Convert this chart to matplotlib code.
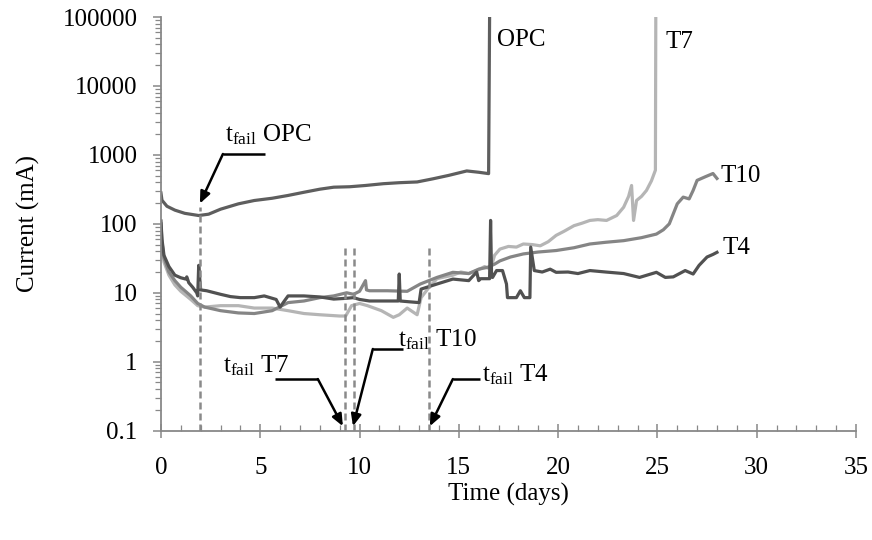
import numpy as np
import matplotlib
matplotlib.use("Agg")
import matplotlib.pyplot as plt
from matplotlib.ticker import FixedLocator, MultipleLocator, NullFormatter, LogLocator

plt.rcParams['font.family'] = ['Liberation Serif', 'DejaVu Serif']
plt.rcParams['mathtext.fontset'] = 'custom'
plt.rcParams['mathtext.rm'] = 'Liberation Serif'

# current (mA) vs time (days)
opc_t = [0, 0.05, 0.3, 0.7, 1.2, 1.9, 2.4, 3.0, 3.9, 4.7, 5.6, 6.4, 7.2, 8.0, 8.7,
         9.5, 10.3, 11.2, 12.0, 12.9, 13.7, 14.5, 15.4, 16.0, 16.5, 16.55]
opc_v = [280, 220, 180, 158, 142, 132, 138, 163, 195, 218, 235, 258, 287, 318, 340,
         345, 360, 382, 395, 405, 450, 505, 585, 560, 535, 100000]

t4_t = [0, 0.05, 0.15, 0.4, 0.7, 1.0, 1.25, 1.3, 1.4, 1.6, 1.8, 1.85, 1.9, 2.0, 2.3,
        3.0, 3.5, 4.0, 4.7, 5.2, 5.8, 6.0, 6.2, 6.4, 7.2, 8.0, 8.7, 9.3, 9.7, 10.0,
        10.5, 11.2, 11.95, 12.0, 12.05, 12.5, 13.0, 13.1, 13.9, 14.7, 15.5, 15.9,
        16.0, 16.1, 16.55, 16.6, 16.65, 16.7, 16.9, 17.2, 17.4, 17.45, 17.6, 17.9,
        18.1, 18.3, 18.58, 18.62, 18.8, 19.2, 19.6, 19.9, 20.5, 21.0, 21.6, 22.4,
        23.3, 24.1, 24.95, 25.4, 25.8, 26.4, 26.8, 27.1, 27.5, 27.8, 28.0]
t4_v = [110, 60, 35, 24, 18, 16.5, 15.8, 17, 14, 12, 10, 9, 25, 11, 10.7,
        9.5, 8.8, 8.5, 8.5, 9, 8, 6.2, 7.5, 9, 9, 8.7, 8.1, 8.3, 8.5, 8.0,
        7.6, 7.6, 7.6, 18.7, 7.6, 7.4, 7.2, 11.3, 13.4, 15.8, 15, 20,
        15, 16, 16, 112, 17, 16.7, 21, 21, 13.4, 8.5, 8.5, 8.5,
        10.7, 8.5, 8.5, 46, 21, 20, 22, 19.8, 20, 19, 21, 20,
        19, 16.7, 19.8, 16.7, 17, 21, 18.7, 25, 33, 36, 38.6]

t10_t = [0, 0.05, 0.15, 0.4, 0.7, 1.0, 1.5, 1.85, 2.2, 3.0, 3.9, 4.7, 5.6, 6.4, 7.2,
         8.0, 8.7, 9.35, 9.7, 10.0, 10.3, 10.35, 10.5, 11.4, 12.4, 13.06, 13.9, 14.7,
         15.5, 16.0, 16.45, 16.8, 17.07, 17.6, 18.25, 19.0, 19.9, 20.8, 21.6, 22.4,
         23.3, 24.2, 24.95, 25.3, 25.6, 26.0, 26.3, 26.6, 26.8, 27.0, 27.4, 27.8, 28.0]
t10_v = [100, 55, 32, 20, 15, 12, 9, 7.0, 6.2, 5.5, 5.1, 5.0, 5.5, 7.2, 7.6,
         8.5, 9.0, 10, 9.5, 10.5, 15, 11, 10.7, 10.7, 10.5, 13.4, 16.7, 19.8,
         19, 22, 23.4, 26, 29, 33, 36.6, 39, 41, 45, 51, 54,
         57, 63, 71, 82, 100, 195, 244, 230, 305, 427, 480, 537, 455]

t7_t = [0, 0.05, 0.15, 0.4, 0.7, 1.0, 1.5, 1.85, 2.2, 3.0, 3.9, 4.7, 5.6, 6.4, 7.2,
        8.0, 9.0, 9.3, 9.6, 10.0, 10.4, 11.1, 11.7, 12.0, 12.4, 12.9, 13.1, 13.5,
        13.9, 14.3, 14.7, 15.1, 15.5, 15.9, 16.3, 16.6, 16.8, 17.07, 17.5, 17.9,
        18.25, 18.7, 19.1, 19.5, 19.9, 20.3, 20.8, 21.2, 21.6, 22.0, 22.44, 22.95,
        23.3, 23.55, 23.7, 23.75, 23.8, 23.95, 24.2, 24.45, 24.7, 24.9, 24.92]
t7_v = [90, 45, 28, 18, 13, 10.5, 8, 6.5, 6.2, 6.5, 6.5, 6.0, 6.0, 5.5, 5.0,
        4.8, 4.6, 4.6, 6.5, 7.0, 6.5, 5.5, 4.4, 4.8, 6.0, 4.8, 8.5, 12,
        16, 17, 18, 20, 19, 21, 24, 22, 35, 43, 47, 46,
        51, 50, 48, 55, 68, 78, 94, 102, 112, 115, 112, 132,
        174, 250, 360, 200, 112, 218, 250, 305, 420, 600, 100000]

fail_t = [1.95, 9.25, 9.7, 13.5]
fail_top = [175, 48, 46, 44]

y_ticks = [0.1, 1, 10, 100, 1000, 10000, 100000]
y_labels = ['0.1', '1', '10', '100', '1000', '10000', '100000']

fs = 18
fig = plt.figure(figsize=(8.72, 5.4), dpi=100)
ax = fig.add_axes([0.1846, 0.2025, 0.797, 0.766])

ax.plot(t7_t, t7_v, color='#b5b5b5', lw=2.3)
ax.plot(t10_t, t10_v, color='#858585', lw=2.3)
ax.plot(t4_t, t4_v, color='#515151', lw=2.3)
ax.plot(opc_t, opc_v, color='#5e5e5e', lw=2.3)

for t, top in zip(fail_t, fail_top):
    ax.plot([t, t], [0.1, top], color='#8a8a8a', lw=1.8, dashes=(2.8, 1.6))

ax.set_yscale('log')
ax.set_xlim(0, 35)
ax.set_ylim(0.1, 100000)
ax.yaxis.set_major_locator(FixedLocator(y_ticks))
ax.set_yticklabels(y_labels)
ax.yaxis.set_minor_locator(LogLocator(base=10, subs=np.arange(2, 10)))
ax.yaxis.set_minor_formatter(NullFormatter())
ax.xaxis.set_major_locator(MultipleLocator(5))
ax.xaxis.set_minor_locator(MultipleLocator(1))

for s in ['top', 'right']:
    ax.spines[s].set_visible(False)
for s in ['left', 'bottom']:
    ax.spines[s].set_color('#888888')
    ax.spines[s].set_linewidth(1.3)

ax.tick_params(axis='y', which='major', direction='out', length=6, width=1.1,
               color='#888888', pad=11, labelsize=fs)
ax.tick_params(axis='y', which='minor', direction='out', length=4, width=0.9,
               color='#888888')
ax.tick_params(axis='x', which='major', direction='inout', length=9.5, width=1.1,
               color='#888888', pad=14, labelsize=fs)
ax.tick_params(axis='x', which='minor', direction='in', length=4.5, width=0.9,
               color='#888888')

ax.set_xlabel('Time (days)', fontsize=fs, labelpad=3)
ax.set_ylabel('Current (mA)', fontsize=fs, labelpad=16)

# curve labels
ax.text(16.9, 47000, 'OPC', fontsize=fs, va='center', ha='left')
ax.text(25.4, 43600, 'T7', fontsize=fs, va='center', ha='left')
ax.text(28.2, 490, 'T10', fontsize=fs, va='center', ha='left')
ax.text(28.3, 45, 'T4', fontsize=fs, va='center', ha='left')

# failure-time callouts
aprops = dict(arrowstyle='-|>,head_length=0.7,head_width=0.3', color='black',
              lw=1.8, shrinkA=0, shrinkB=0)
callouts = [
    (r'$\mathregular{t_{fail}}$ OPC', (3.22, 1550), [(5.24, 1030), (3.12, 1030)], (1.96, 197)),
    (r'$\mathregular{t_{fail}}$ T7', (3.14, 0.69), [(5.74, 0.56), (7.9, 0.56)], (9.16, 0.116)),
    (r'$\mathregular{t_{fail}}$ T10', (11.95, 1.69), [(12.2, 1.53), (10.67, 1.53)], (9.67, 0.116)),
    (r'$\mathregular{t_{fail}}$ T4', (16.15, 0.52), [(16.05, 0.56), (14.7, 0.56)], (13.54, 0.116)),
]
for txt, tpos, seg, tip in callouts:
    ax.text(tpos[0], tpos[1], txt, fontsize=fs, ha='left', va='baseline')
    ax.plot([seg[0][0], seg[1][0]], [seg[0][1], seg[1][1]], color='black', lw=1.8,
            solid_capstyle='butt')
    ax.annotate('', xy=tip, xytext=seg[1], arrowprops=aprops)

fig.savefig('out.png', dpi=100)
